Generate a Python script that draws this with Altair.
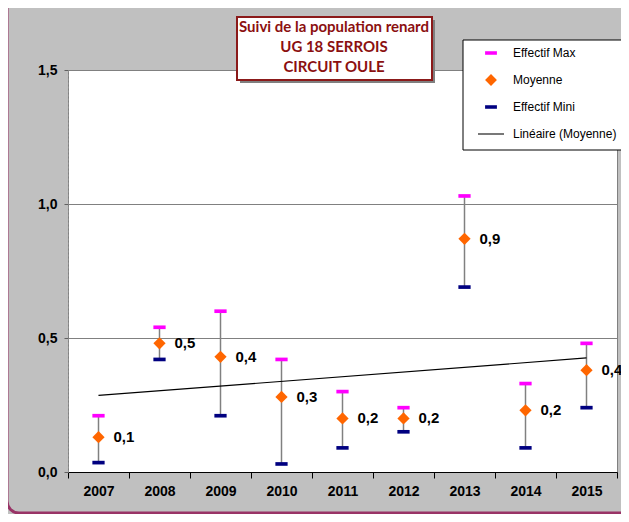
import altair as alt
import pandas as pd

years = [2007, 2008, 2009, 2010, 2011, 2012, 2013, 2014, 2015]
eff_max = [0.21, 0.54, 0.60, 0.42, 0.30, 0.24, 1.03, 0.33, 0.48]
moyenne = [0.13, 0.48, 0.43, 0.28, 0.20, 0.20, 0.87, 0.23, 0.38]
eff_min = [0.035, 0.42, 0.21, 0.03, 0.09, 0.15, 0.69, 0.09, 0.24]

series = ["Effectif Max", "Moyenne", "Effectif Mini", "Linéaire (Moyenne)"]
colors = ["#ff00ff", "#ff6600", "#000080", "#000000"]
shapes = ["M-1,-0.3H1V0.3H-1Z", "diamond", "M-1,-0.3H1V0.3H-1Z", "M-2.2,-0.09H2.2V0.09H-2.2Z"]

title_lines = ["Suivi de la population renard", "UG  18  SERROIS", "CIRCUIT OULE"]
y_ticks = [0, 0.5, 1.0, 1.5]

df = pd.DataFrame({"year": years, "Effectif Max": eff_max, "Moyenne": moyenne, "Effectif Mini": eff_min})
one = pd.DataFrame({"k": [0]})

FONT = "Liberation Sans"

bounds = [y - 0.5 for y in years] + [years[-1] + 0.5]
x_vals = sorted(bounds + years)

x_enc = alt.X(
    "year:Q",
    scale=alt.Scale(domain=[years[0] - 0.5, years[-1] + 0.5], nice=False, zero=False),
    axis=alt.Axis(
        values=x_vals,
        labelExpr="datum.value % 1 === 0 ? toString(datum.value) : ''",
        tickOpacity={"condition": {"test": "datum.value % 1 !== 0", "value": 1}, "value": 0},
        labelOverlap=False,
        labelFlush=False,
        grid=False,
        title=None,
        domainColor="#000000",
        tickColor="#000000",
        tickSize=6,
        labelFont=FONT,
        labelFontSize=14,
        labelFontWeight="bold",
        labelColor="#000000",
        labelPadding=6,
    ),
)

y_scale = alt.Scale(domain=[0, 1.5], nice=False)
y_axis = alt.Axis(
    values=y_ticks,
    labelExpr="replace(format(datum.value, '.1f'), '.', ',')",
    grid=True,
    gridColor="#808080",
    gridWidth=1,
    title=None,
    domainColor="#909090",
    domainDash=[2, 2],
    tickColor="#606060",
    tickSize=4,
    labelFont=FONT,
    labelFontSize=14,
    labelFontWeight="bold",
    labelColor="#000000",
    labelPadding=7,
)

base = alt.Chart(df)

frame = alt.Chart(one).mark_rect(
    fill=None, fillOpacity=0, stroke="#993366", strokeWidth=3, cornerRadius=12
).encode(x=alt.value(-61), x2=alt.value(700), y=alt.value(-100), y2=alt.value(443))

rules = base.mark_rule(color="#808080", strokeWidth=1.5).encode(
    x=x_enc,
    y=alt.Y("Effectif Mini:Q", scale=y_scale, axis=y_axis),
    y2="Effectif Max:Q",
)

trend = base.transform_regression("year", "Moyenne").mark_line(
    color="#000000", strokeWidth=1.2
).encode(x=x_enc, y=alt.Y("Moyenne:Q", scale=y_scale, axis=y_axis))

leg = alt.Legend(
    title=None, orient="none", legendX=417, legendY=-23, padding=0,
    labelFont=FONT, labelFontSize=12, labelColor="#000000",
    rowPadding=15, labelOffset=16, symbolSize=140, symbolStrokeWidth=0,
    labelLimit=300,
)

points = base.transform_fold(
    ["Effectif Max", "Moyenne", "Effectif Mini"], as_=["series", "value"]
).mark_point(filled=True, opacity=1, size=150, strokeWidth=0).encode(
    x=x_enc,
    y=alt.Y("value:Q", scale=y_scale, axis=y_axis),
    color=alt.Color("series:N", scale=alt.Scale(domain=series, range=colors), legend=leg),
    shape=alt.Shape("series:N", scale=alt.Scale(domain=series, range=shapes), legend=leg),
)

labels = base.transform_calculate(
    lbl="replace(format(datum.Moyenne, '.1f'), '.', ',')"
).mark_text(
    align="left", baseline="middle", dx=15, font=FONT, fontSize=15, fontWeight="bold", color="#000000"
).encode(x=x_enc, y=alt.Y("Moyenne:Q", scale=y_scale, axis=y_axis), text="lbl:N")

legend_box = alt.Chart(one).mark_rect(fill="#ffffff", stroke="#000000", strokeWidth=1).encode(
    x=alt.value(395), x2=alt.value(700), y=alt.value(-30), y2=alt.value(80)
)

title_shadow = alt.Chart(one).mark_rect(fill="#7f7f7f").encode(
    x=alt.value(172), x2=alt.value(367), y=alt.value(-50), y2=alt.value(13)
)
title_box = alt.Chart(one).mark_rect(fill="#ffffff", stroke="#8b1a1a", strokeWidth=2).encode(
    x=alt.value(169), x2=alt.value(364), y=alt.value(-53), y2=alt.value(10)
)
title_text = alt.Chart(one).mark_text(
    text=title_lines, font="Lato", fontSize=15, fontWeight="bold", color="#8b1010",
    align="center", baseline="top", lineHeight=20,
).encode(x=alt.value(266), y=alt.value(-50))

chart = alt.layer(
    frame, rules, trend, points, labels, legend_box, title_shadow, title_box, title_text
).properties(
    width=549,
    height=402,
    padding={"left": 60, "top": 62, "right": 4, "bottom": 42},
    autosize="none",
    background="#c0c0c0",
).configure_view(fill="#ffffff", stroke="#808080", strokeWidth=1)

chart.save("out.html", embed_options={"renderer": "svg", "actions": False})
